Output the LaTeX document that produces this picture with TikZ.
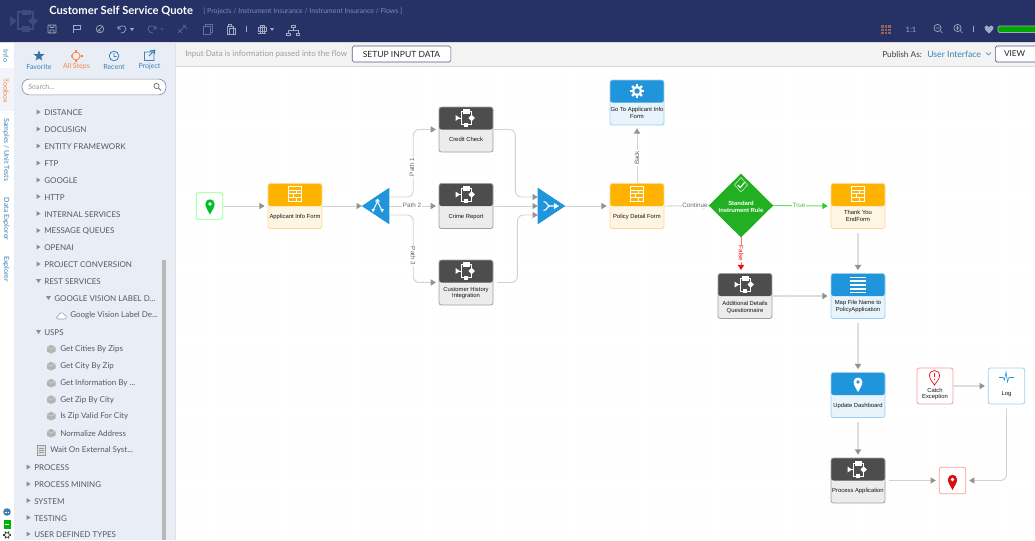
\documentclass[tikz,border=0pt]{standalone}
\usepackage{fontspec}
\setmainfont{Liberation Sans}
\newfontfamily\uifont{Lato}
\usetikzlibrary{arrows.meta,calc,shapes.geometric}
\newcommand{\tdots}{...}
\definecolor{navy}{HTML}{263266}
\definecolor{sidebg}{HTML}{E9EDF5}
\definecolor{barbg}{HTML}{F3F3F3}
\definecolor{uitext}{HTML}{55596A}
\definecolor{tabblue}{HTML}{3C82B4}
\definecolor{uiorange}{HTML}{F5894B}
\definecolor{linegrey}{HTML}{D2D2D2}
\definecolor{thicklinegrey}{HTML}{DDDDDD}
\definecolor{headgrey}{HTML}{939393}
\definecolor{stepblue}{HTML}{2195DC}
\definecolor{blueBody}{HTML}{E8F4FB}
\definecolor{blueEdge}{HTML}{9BD0F2}
\definecolor{formOrange}{HTML}{FFB300}
\definecolor{formBody}{HTML}{FFF5E3}
\definecolor{formEdge}{HTML}{FBDB94}
\definecolor{subDark}{HTML}{4D4D4D}
\definecolor{subBody}{HTML}{ECECEC}
\definecolor{subEdge}{HTML}{A0A0A0}
\definecolor{ruleGreen}{HTML}{22B022}
\definecolor{trueGreen}{HTML}{2FCB2F}
\definecolor{falseRed}{HTML}{F01010}
\definecolor{iconDim}{HTML}{A3A9C2}
\definecolor{iconFaint}{HTML}{3E4A7C}
\tikzset{
  x=0.75pt,y=-0.75pt,
  stepframe/.style={rectangle,rounded corners=1.8pt,minimum width=40.5pt,minimum height=33.75pt,inner sep=0pt,line width=0.6pt},
  formstep/.style={stepframe,draw=formEdge,fill=formBody,path picture={\fill[formOrange](path picture bounding box.north west) rectangle (path picture bounding box.east);}},
  bluestep/.style={stepframe,draw=blueEdge,fill=blueBody,path picture={\fill[stepblue](path picture bounding box.north west) rectangle (path picture bounding box.east);}},
  substep/.style={stepframe,draw=subEdge,fill=subBody,path picture={\fill[subDark](path picture bounding box.north west) rectangle (path picture bounding box.east);}},
  steptext/.style={font=\fontsize{4.4}{5.2}\selectfont,text=black!92,align=center,inner sep=0pt},
  smallbox/.style={rectangle,rounded corners=1.8pt,fill=white,inner sep=0pt,line width=0.6pt},
  conn/.style={draw=linegrey,line width=0.7pt,-{Triangle[length=3.9pt,width=4.6pt,color=headgrey]}},
  conngap/.style={conn,shorten >=2.2pt},
  connthick/.style={conngap,draw=thicklinegrey,line width=1.05pt},
  connlabel/.style={font=\fontsize{4.7}{5.6}\selectfont,text=black!60,fill=white,inner sep=0.5pt},
  phantombox/.style={rectangle,inner sep=0pt,minimum width=#1},
  sideitem/.style={font=\uifont\fontsize{6}{7}\selectfont,text=uitext,anchor=west,inner sep=0pt,yshift=-0.5pt},
  tabitem/.style={font=\uifont\fontsize{5.3}{6}\selectfont,inner sep=0pt,rotate=-90},
  toplabel/.style={font=\uifont\fontsize{5.3}{6}\selectfont,inner sep=0pt},
  whiteline/.style={draw=white,line width=0.6pt},
  tool/.style={draw=iconDim,line width=0.5pt,fill=none},
  tooldim/.style={draw=iconFaint!80!white,line width=0.5pt,fill=none},
}
\newcommand{\iconFlow}[2]{\begin{scope}[shift={(#1,#2)}]
  \draw[whiteline] (-7,0)--(-4.5,0) (-4.5,-6.5) rectangle (5.5,6.5);
  \fill[white] (-10.5,-3)--(-6,0)--(-10.5,3)--cycle;
  \fill[white] (-3.5,-9)rectangle(3.5,-4);
  \fill[white] (-2,4.5)rectangle(2,8.5);
  \fill[white] (5.5,-3.2)--(9,0)--(5.5,3.2)--(2.5,0)--cycle;
\end{scope}}
\newcommand{\iconForm}[2]{\begin{scope}[shift={(#1,#2)}]
  \draw[draw=white,line width=0.65pt] (-6.5,-7.5) rectangle (6.5,7.5)
    (-6.5,-4)--(6.5,-4) (-6.5,-.5)--(6.5,-.5) (-6.5,3.5)--(6.5,3.5)
    (1.5,-4)--(1.5,-.5) (-2,-.5)--(-2,3.5) (1.5,3.5)--(1.5,7.5);
\end{scope}}
\newcommand{\iconGear}[2]{\begin{scope}[shift={(#1,#2)}]
  \foreach \a in {0,45,...,315}{\draw[white,line width=1.7pt] (\a:4)--(\a:7);}
  \fill[white] (0,0) circle (5.2);
  \fill[stepblue] (0,0) circle (2.7);
\end{scope}}
\newcommand{\iconPin}[5]{\begin{scope}[shift={(#1,#2)},scale=#3]
  \fill[#4] (0,2.3) .. controls (-.5,1.3) and (-1,.7) .. (-1,0) .. controls (-1,-1.35) and (1,-1.35) .. (1,0) .. controls (1,.7) and (.5,1.3) .. cycle;
  \fill[#5] (0,0) circle (.42);
\end{scope}}
\newcommand{\iconList}[2]{\begin{scope}[shift={(#1,#2)}]
  \foreach \v in {-7.5,-3.8,0,3.8,7.5}{\fill[white] (-8,\v-.9) rectangle (8,\v+.9);}
\end{scope}}
\begin{document}
\begin{tikzpicture}
\useasboundingbox (0,0) rectangle (1035,540);
\clip (0,0) rectangle (1035,540);
% backgrounds
\fill[white] (0,0) rectangle (1035,540);
\fill[black!6] \foreach \x in {180,189,...,1035}{\foreach \y in {74,83,...,540}{(\x,\y) rectangle ++(0.9,0.9)}};
\fill[sidebg] (14,42) rectangle (176,540);
\fill[white] (0,42) rectangle (14,540);
\fill[sidebg!60!white] (0,68) rectangle (14,111);
\fill[barbg] (176,42) rectangle (1035,66);
\fill[black!14] (176,65.5) rectangle (1035,66.7);
\fill[black!12] (175.3,42) rectangle (176,540);
\fill[navy] (0,0) rectangle (1035,42);
\fill[black!15] (0,42) rectangle (1035,43);
% header
\begin{scope}[iconFaint]
  \fill (10,16)--(17,21)--(10,26)--cycle;
  \fill (22,9.5) rectangle (31,14.5);
  \fill (22,26) rectangle (30,32);
  \fill (33,17)--(38,21)--(33,25)--(28,21)--cycle;
  \draw[line width=.8pt] (17,21)--(18,21) (18,12) rectangle (33,29);
\end{scope}
\node[anchor=west,inner sep=0pt,font=\uifont\bfseries\fontsize{8.4}{9}\selectfont,text=white] (title) at (49,11.5) {Customer Self Service Quote};
\node[anchor=west,inner sep=0pt,font=\uifont\fontsize{5.2}{6}\selectfont,text=iconDim!75!navy] (crumb) at (203,11.5) {[ Projects / Instrument Insurance / Instrument Insurance / Flows ]};
% toolbar icons
\draw[tool,rounded corners=.5pt] (48,25) rectangle (56,33) (50,25) rectangle (54,27.5) (50,33) rectangle (54,30);
\draw[tool] (73,25)--(73,33) (73,25.5)--(80,25.5)--(80,29.5)--(73,29.5);
\draw[tool] (100,29) circle (3.8) (97.5,31.5)--(102.5,26.5) (98.5,29)--(101,31.5);
\draw[tool] (118,26)--(118,29)--(121,29) (118.5,28) .. controls (120,25) and (126,25) .. (126,29) .. controls (126,32) and (123,33) .. (121,33);
\fill[iconDim] (130,28)--(134,28)--(132,31)--cycle;
\draw[tooldim] (156,26)--(156,29)--(153,29) (155.5,28) .. controls (154,25) and (148,25) .. (148,29) .. controls (148,32) and (151,33) .. (153,33);
\fill[iconFaint] (160,28)--(164,28)--(162,31)--cycle;
\draw[tooldim] (178,33)--(186,25) (183,25)--(187,29) (178,29)--(182,33);
\draw[tooldim] (203,26) rectangle (210,34) (205,26)--(205,24)--(212,24)--(212,32)--(210,32);
\draw[tool] (227,26) rectangle (233,34) (229,28) rectangle (235,34) (228.5,24.5) rectangle (231.5,26);
\draw[tool] (246,26)--(246,32);
\draw[tool] (258,33)--(266,33) (262,25)--(262,33) (258,27) rectangle (266,31) (260,25) rectangle (264,33);
\fill[iconDim] (270,28)--(274,28)--(272,31)--cycle;
\draw[tool] (293,27)--(293,30) (288,33)--(288,30)--(298,30)--(298,33) (291,25) rectangle (295,27.5) (286.5,33) rectangle (290,35) (296,33) rectangle (299.5,35);
% right-hand header tools
\fill[uiorange!55!navy] (881,25) rectangle (891,34);
\draw[navy,line width=.35pt] (881,28)--(891,28) (881,31)--(891,31) (884.3,25)--(884.3,34) (887.6,25)--(887.6,34);
\node[inner sep=0pt,font=\uifont\fontsize{5.6}{7}\selectfont,text=iconDim] (ratio) at (911,29.5) {1:1};
\draw[tool] (937.5,28) circle (3.6) (940,30.5)--(942.5,33) (935.5,28)--(939.5,28);
\draw[tool] (957.5,28) circle (3.6) (960,30.5)--(962.5,33) (955.5,28)--(959.5,28) (957.5,26)--(957.5,30);
\draw[tool] (973,26)--(973,32);
\fill[iconDim] (989,33.5) .. controls (985,30) and (984.5,28.5) .. (984.5,27.5) .. controls (984.5,25) and (988,24.5) .. (989,27) .. controls (990,24.5) and (993.5,25) .. (993.5,27.5) .. controls (993.5,28.5) and (993,30) .. cycle;
\draw[draw=iconDim,fill=green!65!black,line width=.5pt,rounded corners=1pt] (998,26) rectangle (1040,32.5);
% bar
\node[anchor=west,inner sep=0pt,font=\uifont\fontsize{6.05}{7}\selectfont,text=black!38] (inputhint) at (185,54) {Input Data is information passed into the flow};
\node[draw=navy!80,fill=white,rounded corners=1.2pt,line width=.5pt,minimum width=74pt,minimum height=12pt,inner sep=0pt,font=\uifont\fontsize{6.4}{7}\selectfont,text=black!85] (setup) at (401.5,54) {SETUP INPUT DATA};
\node[anchor=west,inner sep=0pt,font=\uifont\fontsize{6.2}{7}\selectfont,text=black!75] (publish) at (882,54) {Publish As:};
\node[anchor=west,inner sep=0pt,font=\uifont\fontsize{6.5}{7}\selectfont,text=tabblue] (pubtype) at (927,54) {User Interface};
\draw[tabblue,line width=.5pt] (986,52.5)--(988.5,55)--(991,52.5);
\node[draw=navy!80,fill=white,rounded corners=1.2pt,line width=.5pt,minimum width=34pt,minimum height=12pt,inner sep=0pt,font=\uifont\fontsize{6.2}{7}\selectfont,text=black!85] (viewbtn) at (1018,54) {\hspace*{-1pt}VIEW\hspace*{4pt}};
% left tabs
\node[tabitem,text=tabblue] (tabinfo) at (6,56) {Info};
\node[tabitem,text=uiorange] (tabtool) at (6,91) {Toolbox};
\node[tabitem,text=tabblue] (tabsamples) at (6,150) {Samples / Unit Tests};
\node[tabitem,text=tabblue] (tabdata) at (6,219) {Data Explorer};
\node[tabitem,text=tabblue] (tabexp) at (6,269) {Explorer};
% top tabs of toolbox
\node[star,star points=5,star point ratio=2.4,fill=tabblue!90!black,inner sep=0pt,minimum size=8.5pt] (favicon) at (39,56) {};
\node[toplabel,text=tabblue] (favlabel) at (39,66.5) {Favorite};
\draw[uiorange,line width=.6pt] (76,56) circle (4) (71,56)--(73,56);
\fill[uiorange] (75,50) rectangle (77,52.5) (75,59.5) rectangle (77,62) (80.5,55) rectangle (83,57) (71,54.5)--(73,56)--(71,57.5)--cycle;
\node[toplabel,text=uiorange] (stepslabel) at (76.5,66.5) {All Steps};
\draw[tabblue,line width=.6pt] (114,56) circle (4.8) (114,53)--(114,56.5)--(116.5,56.5);
\node[toplabel,text=tabblue] (recentlabel) at (114,66.5) {Recent};
\draw[tabblue,line width=.6pt] (144.5,52) rectangle (154,60.5) (149,56)--(155,50) (150,51)--(155,50)--(154.5,54);
\node[toplabel,text=tabblue] (projlabel) at (149.5,66.5) {Project};
\node[draw=navy!55,fill=white,rounded corners=5.5pt,line width=.5pt,minimum width=108pt,minimum height=11.8pt,inner sep=0pt] (searchbox) at (94,87) {};
\node[anchor=west,inner sep=0pt,font=\uifont\fontsize{5.4}{7}\selectfont,text=black!40] (searchtext) at (28,87) {Search\tdots};
\draw[black!55,line width=.55pt] (156.5,86) circle (2.6) (158.5,88)--(161,90.5);
% sidebar list
\fill[black!28] (162,260) rectangle (166,540);
\foreach \nm/\tx/\ty/\lbl in {
 a/44/112/DISTANCE,b/44/129/DOCUSIGN,c/44/146/ENTITY FRAMEWORK,d/44/163/FTP,e/44/180/GOOGLE,
 f/44/196.5/HTTP,g/44/213.5/INTERNAL SERVICES,h/44/230.5/MESSAGE QUEUES,i/44/247/OPENAI,
 j/44/264/PROJECT CONVERSION,n/34/467/PROCESS,o/34/484/PROCESS MINING,p/34/500.5/SYSTEM,
 q/34/517.5/TESTING,r/34/534/USER DEFINED TYPES}{
  \node[sideitem] (side\nm) at (\tx,\ty) {\lbl};
  \fill[black!45] (\tx-7.5,\ty-2.5)--(\tx-3.5,\ty)--(\tx-7.5,\ty+2.5)--cycle;
}
\foreach \nm/\tx/\ty/\lbl in {k/44/281/REST SERVICES,l/54/298/GOOGLE VISION LABEL D\tdots,m/44/332/USPS}{
  \node[sideitem] (side\nm) at (\tx,\ty) {\lbl};
  \fill[black!45] (\tx-8,\ty-2)--(\tx-3,\ty-2)--(\tx-5.5,\ty+2)--cycle;
}
\node[sideitem] (sidecloud) at (70,315) {Google Vision Label De\tdots};
\draw[black!40,line width=.4pt,fill=white] (58,319) .. controls (56,319) and (56,315.5) .. (58.5,315.5) .. controls (59,312) and (63.5,312) .. (64.5,315) .. controls (67,315) and (67,319) .. (64.5,319) -- cycle;
\foreach \nm/\ty/\lbl in {s/349/Get Cities By Zips,t/366/Get City By Zip,u/383/Get Information By \tdots,v/399.5/Get Zip By City,w/416/Is Zip Valid For City,x/433/Normalize Address}{
  \node[sideitem] (side\nm) at (60,\ty) {\lbl};
  \fill[black!30] (47,\ty-2)--(51,\ty-4.2)--(55.5,\ty-2)--(55.5,\ty+2.5)--(51,\ty+4.5)--(47,\ty+2.5)--cycle;
  \draw[black!12,line width=.3pt] (47,\ty-2)--(51,\ty)--(55.5,\ty-2) (51,\ty)--(51,\ty+4.5);
}
\node[sideitem] (sidewait) at (50,450) {Wait On External Syst\tdots};
\draw[black!40,fill=black!12,line width=.4pt] (37.5,445) rectangle (45,455);
\draw[black!40,line width=.3pt] (39,448)--(43.5,448) (39,450)--(43.5,450) (39,452)--(43.5,452);
% bottom-left icons
\fill[tabblue] (7,512) circle (3.8);
\draw[white,line width=.5pt,dash pattern=on .8pt off .6pt] (4.5,512)--(9.5,512);
\fill[green!70!black] (3.5,520) rectangle (10.5,528.5);
\draw[white,line width=.4pt] (5,524)--(9,524);
\foreach \a in {0,60,...,300}{\draw[black!75,line width=.8pt] (7,535)++(\a:2.5)--++(\a:1.5);}
\draw[black!75,line width=.6pt] (7,535) circle (2.4);
% === flow nodes ===
\node[smallbox,draw=green!45!white,minimum width=20pt,minimum height=20pt] (startstep) at (209.5,206) {};
\node[formstep] (applicant) at (295,206) {};
\node[phantombox=20.25pt,minimum height=27pt] (fork) at (375.5,206) {};
\node[substep] (credit) at (466,129.5) {};
\node[substep] (crime) at (466,206) {};
\node[substep] (customer) at (466,282.5) {};
\node[phantombox=20.25pt,minimum height=27pt] (merge) at (551.5,206) {};
\node[formstep] (policy) at (637,206) {};
\node[bluestep] (goform) at (637,102.5) {};
\node[phantombox=48pt,minimum height=47.5pt] (rule) at (741,205.5) {};
\node[formstep] (thanks) at (858,206) {};
\node[substep] (additional) at (745,296) {};
\node[bluestep] (mapfile) at (858,296) {};
\node[bluestep] (update) at (858,395) {};
\node[substep] (process) at (858,480.5) {};
\node[smallbox,draw=red!40!white,minimum width=27pt,minimum height=27pt] (catch) at (935,386) {};
\node[smallbox,draw=blueEdge,minimum width=27.5pt,minimum height=27pt] (logstep) at (1006.5,386) {};
\node[smallbox,draw=red!40!white,minimum width=20pt,minimum height=20pt] (endstep) at (952.5,480.5) {};
% connectors
\draw[conngap] (startstep.east) -- (applicant.west);
\draw[conn] (applicant.east) -- (fork.west);
\draw[conn,rounded corners=4.5pt,shorten >=2pt] ($(fork.east)+(0,-9)$) -- ++(24,0) |- (credit.west);
\draw[conn,shorten >=2pt] (fork.east) -- (crime.west);
\draw[conn,rounded corners=4.5pt,shorten >=2pt] ($(fork.east)+(0,9)$) -- ++(24,0) |- (customer.west);
\draw[conn,rounded corners=4.5pt] (credit.east) -- ++(22,0) |- ($(merge.west)+(0,-9)$);
\draw[conn] (crime.east) -- (merge.west);
\draw[conn,rounded corners=4.5pt] ($(customer.east)+(4,0)$) -- ++(20,0) |- ($(merge.west)+(0,9)$);
\draw[conngap] (merge.east) -- (policy.west);
\draw[conngap] (policy.north) -- (goform.south);
\draw[conn] (policy.east) -- (rule.west);
\draw[draw=trueGreen!70!white,line width=.7pt,-{Triangle[length=3.9pt,width=4.6pt,color=trueGreen]},shorten >=2.2pt] (rule.east) -- (thanks.west);
\draw[draw=falseRed!60!white,line width=.7pt,-{Triangle[length=3.9pt,width=4.6pt,color=falseRed]},shorten >=2.2pt] (rule.south) -- (741,273);
\draw[connthick] (additional.east) -- (mapfile.west);
\draw[connthick,shorten <=3pt] (thanks.south) -- (mapfile.north);
\draw[connthick,shorten <=3pt] (mapfile.south) -- (update.north);
\draw[connthick,shorten <=3pt] (update.south) -- (process.north);
\draw[conngap,shorten <=3pt] (process.east) -- (endstep.west);
\draw[connthick] (catch.east) -- (logstep.west);
\draw[conngap,rounded corners=4.5pt,shorten <=3pt] (logstep.south) |- (endstep.east);
% connector labels
\node[connlabel,rotate=90] (path1) at (412,167) {Path 1};
\node[connlabel] (path2) at (412,205.5) {Path 2};
\node[connlabel,rotate=-90] (path3) at (413,256) {Path 3};
\node[connlabel,rotate=90] (backlbl) at (637,158) {Back};
\node[connlabel] (contlbl) at (695,205.5) {Continue};
\node[connlabel,text=trueGreen] (truelbl) at (799,205.5) {True};
\node[connlabel,text=falseRed,rotate=-90] (falselbl) at (741,253.5) {False};
% triangles
\fill[stepblue] (fork.west) -- (fork.north east) -- (fork.south east) -- cycle;
\fill[stepblue] (merge.east) -- (merge.north west) -- (merge.south west) -- cycle;
\draw[white,line width=.8pt] (373,210.5) -- (377.5,201.5) -- (382,210.5);
\fill[white] (375,201.5)--(377.5,198.5)--(380,201.5)--cycle;
\fill[white] (371.5,209)--(375,209)--(373,212.5)--cycle (380.5,209)--(384,209)--(382,212.5)--cycle;
\draw[white,line width=.8pt] (543.5,201.5) .. controls (547,201.5) and (547,206) .. (550,206) -- (555,206) (543.5,210.5) .. controls (547,210.5) and (547,206) .. (550,206);
\fill[white] (554,203)--(559,206)--(554,209)--cycle;
% rule diamond
\fill[ruleGreen] (rule.west) -- (rule.north) -- (rule.east) -- (rule.south) -- cycle;
\draw[white!70!ruleGreen,line width=.5pt] (741,177.5)--(747.5,185)--(741,192)--(734.5,185)--cycle;
\draw[white,line width=.9pt] (737.8,185)--(740.3,187.5)--(744.5,182.5);
\node[steptext,text=white,font=\bfseries\fontsize{4.4}{5.4}\selectfont] (ruletext) at (741,206.5) {Standard\\Instrument Rule};
% step contents
\iconPin{210}{204}{4.6}{green!70!black!85!cyan}{white}
\iconForm{295}{194}\node[steptext] (t1) at (295,216.5) {Applicant Info Form};
\iconFlow{466}{118}\node[steptext] (t2) at (466,139.5) {Credit Check};
\iconFlow{466}{194.5}\node[steptext] (t3) at (466,216.5) {Crime Report};
\iconFlow{466}{271}\node[steptext] (t4) at (466,293) {Customer History\\Integration};
\iconForm{637}{194}\node[steptext] (t5) at (637,216.5) {Policy Detail Form};
\iconGear{637}{91}\node[steptext] (t6) at (637,112.5) {Go To Applicant Info\\Form};
\iconForm{858}{194}\node[steptext] (t7) at (858,216) {Thank You\\EndForm};
\iconFlow{745}{284.5}\node[steptext] (t8) at (745,307) {Additional Details\\Questionnaire};
\iconList{858}{285}\node[steptext] (t9) at (858,306.5) {Map File Name to\\PolicyApplication};
\iconPin{858}{382}{4.4}{white}{stepblue}\node[steptext] (t10) at (858,405.5) {Update Dashboard};
\iconFlow{858}{469.5}\node[steptext] (t11) at (858,491) {Process Application};
% catch
\begin{scope}[shift={(934.5,376.5)},scale=5]
 \draw[falseRed,line width=.55pt,fill=white] (0,1.7) .. controls (-.5,1) and (-1,.5) .. (-1,-.2) .. controls (-1,-1.5) and (1,-1.5) .. (1,-.2) .. controls (1,.5) and (.5,1) .. cycle;
 \draw[falseRed,line width=.7pt] (0,-.75)--(0,.1) (0,.42)--(0,.68);
\end{scope}
\node[steptext] (t12) at (935,394) {Catch\\Exception};
\draw[stepblue,line width=.45pt] (999,377.5)--(1003,377.5)--(1004.5,380)--(1006,372)--(1007.5,382)--(1009,377.5)--(1014,377.5);
\node[steptext] (t13) at (1006.5,394) {Log};
\iconPin{952.5}{479.5}{4.6}{falseRed!90!black}{white}
\end{tikzpicture}
\end{document}
